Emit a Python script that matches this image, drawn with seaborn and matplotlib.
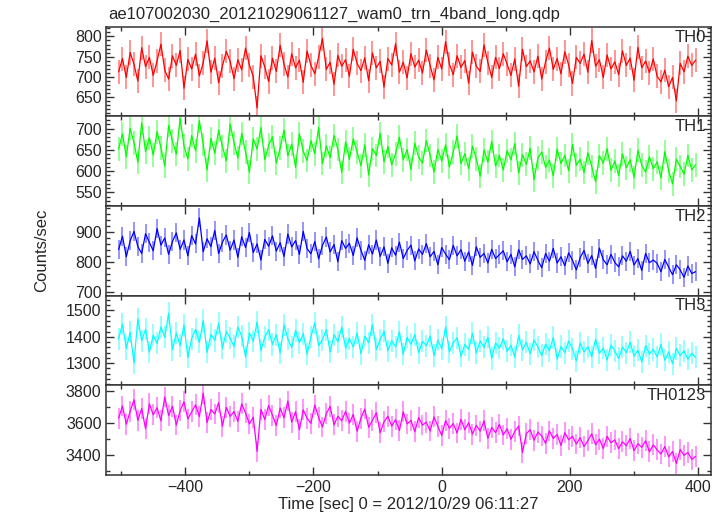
import numpy as np
import pandas as pd
import matplotlib.pyplot as plt
import seaborn as sns
from matplotlib.ticker import MultipleLocator

# time bins (sec), 6 s apart
time = np.arange(-504, 397, 6)

th0 = [712, 745, 698, 760, 731, 689, 772, 725, 748, 703,
       739, 781, 716, 694, 752, 728, 765, 671, 743, 719,
       756, 702, 734, 789, 711, 746, 685, 727, 763, 738,
       695, 742, 717, 771, 729, 700, 622, 752, 724, 688,
       746, 713, 778, 731, 699, 757, 722, 741, 686, 764,
       728, 707, 749, 795, 718, 736, 681, 753, 726, 742,
       701, 768, 733, 715, 747, 690, 759, 722, 738, 674,
       745, 729, 782, 711, 736, 697, 757, 724, 741, 709,
       766, 727, 692, 748, 719, 787, 731, 705, 752, 723,
       740, 684, 761, 726, 713, 779, 735, 698, 748, 720,
       757, 731, 703, 744, 676, 768, 725, 739, 712, 751,
       694, 737, 771, 718, 745, 707, 762, 729, 683, 748,
       733, 756, 711, 790, 726, 742, 698, 754, 719, 737,
       705, 764, 728, 746, 691, 773, 722, 739, 710, 744,
       701, 687, 716, 675, 698, 640, 733, 712, 751, 728,
       741]

th1 = [652, 688, 634, 701, 667, 621, 714, 646, 679, 638,
       693, 655, 612, 708, 671, 640, 725, 659, 629, 684,
       648, 719, 663, 603, 677, 642, 696, 658, 624, 711,
       667, 631, 689, 645, 598, 676, 652, 703, 627, 661,
       681, 619, 655, 697, 636, 664, 609, 688, 647, 625,
       672, 641, 703, 618, 659, 632, 684, 651, 597, 669,
       628, 676, 645, 613, 662, 591, 653, 637, 689, 622,
       658, 615, 641, 680, 627, 651, 604, 666, 633, 619,
       672, 637, 598, 651, 624, 662, 610, 645, 683, 618,
       641, 606, 659, 629, 588, 650, 621, 670, 612, 637,
       603, 648, 627, 665, 596, 639, 616, 654, 580, 631,
       645, 609, 626, 589, 652, 618, 637, 601, 663, 614,
       628, 597, 643, 611, 575, 636, 619, 653, 602, 624,
       590, 641, 608, 627, 585, 649, 614, 598, 634, 606,
       622, 584, 646, 601, 570, 628, 611, 593, 637, 603,
       615]

th2 = [842, 887, 818, 871, 903, 852, 829, 895, 866, 838,
       912, 857, 881, 826, 869, 898, 843, 874, 821, 889,
       861, 948, 835, 878, 852, 906, 829, 867, 891, 840,
       874, 816, 885, 849, 899, 832, 861, 807, 876, 853,
       888, 837, 865, 819, 894, 851, 872, 826, 903, 845,
       828, 869, 811, 856, 884, 834, 859, 801, 872, 846,
       863, 822, 881, 840, 806, 858, 827, 874, 819, 851,
       796, 848, 823, 867, 812, 839, 857, 804, 844, 826,
       862, 818, 836, 791, 849, 827, 808, 856, 821, 842,
       803, 834, 789, 851, 816, 829, 797, 843, 812, 825,
       838, 801, 826, 784, 842, 809, 821, 794, 835, 806,
       781, 829, 803, 846, 797, 818, 788, 831, 806, 774,
       815, 839, 796, 822, 779, 847, 808, 791, 826, 799,
       784, 821, 803, 836, 790, 812, 772, 829, 798, 807,
       796, 768, 809, 783, 758, 791, 774, 749, 787, 762,
       768]

th3 = [1392, 1448, 1356, 1417, 1301, 1468, 1385, 1428, 1342, 1406,
       1375, 1437, 1398, 1489, 1351, 1414, 1367, 1445, 1322, 1393,
       1428, 1379, 1462, 1341, 1409, 1386, 1451, 1357, 1420, 1395,
       1363, 1437, 1402, 1324, 1415, 1383, 1456, 1348, 1399, 1427,
       1371, 1408, 1339, 1445, 1392, 1360, 1424, 1378, 1412, 1335,
       1400, 1453, 1366, 1389, 1427, 1342, 1408, 1381, 1437, 1358,
       1393, 1361, 1415, 1336, 1402, 1378, 1446, 1352, 1389, 1421,
       1347, 1385, 1362, 1419, 1334, 1398, 1371, 1409, 1340, 1383,
       1366, 1402, 1329, 1387, 1355, 1438, 1343, 1378, 1396, 1326,
       1371, 1352, 1413, 1339, 1384, 1360, 1398, 1318, 1376, 1357,
       1392, 1345, 1368, 1323, 1405, 1351, 1379, 1336, 1388, 1362,
       1329, 1372, 1348, 1397, 1315, 1363, 1340, 1384, 1354, 1309,
       1376, 1343, 1362, 1325, 1391, 1338, 1357, 1312, 1369, 1346,
       1318, 1361, 1340, 1379, 1327, 1350, 1305, 1366, 1335, 1352,
       1324, 1371, 1311, 1343, 1298, 1356, 1329, 1347, 1315, 1338,
       1322]

th0123 = [3628, 3705, 3591, 3672, 3744, 3615, 3689, 3563, 3718, 3650,
          3694, 3612, 3761, 3645, 3703, 3586, 3676, 3731, 3624, 3668,
          3712, 3639, 3785, 3601, 3683, 3655, 3726, 3578, 3697, 3640,
          3670, 3609, 3718, 3661, 3593, 3635, 3422, 3684, 3620, 3708,
          3647, 3583, 3692, 3631, 3736, 3604, 3669, 3556, 3681, 3628,
          3596, 3711, 3633, 3574, 3658, 3702, 3587, 3641, 3613, 3671,
          3598, 3652, 3547, 3629, 3686, 3572, 3615, 3663, 3538, 3606,
          3641, 3579, 3620, 3552, 3668, 3593, 3615, 3544, 3632, 3586,
          3604, 3549, 3637, 3578, 3521, 3613, 3566, 3595, 3536, 3622,
          3557, 3601, 3529, 3584, 3548, 3612, 3503, 3571, 3539, 3590,
          3524, 3563, 3497, 3546, 3580, 3415, 3533, 3556, 3491, 3542,
          3518, 3472, 3549, 3503, 3527, 3459, 3538, 3494, 3516, 3468,
          3507, 3452, 3489, 3531, 3463, 3498, 3440, 3515, 3476, 3493,
          3438, 3481, 3457, 3502, 3426, 3469, 3447, 3488, 3419, 3462,
          3431, 3405, 3452, 3388, 3421, 3346, 3434, 3397, 3415, 3372,
          3390]

# 1-sigma errors (counts/sec)
err0, err1, err2, err3, err0123 = 30, 28, 32, 42, 65

bands = ["TH0", "TH1", "TH2", "TH3", "TH0123"]
series = [th0, th1, th2, th3, th0123]
errors = [err0, err1, err2, err3, err0123]
colors = ["#ff0000", "#00ff00", "#0000ff", "#00ffff", "#ff00ff"]
ylims = [(601, 824), (518, 729), (688, 988), (1217, 1556), (3276, 3835)]
major = [50, 50, 100, 100, 200]
minor = [10, 10, 20, 20, 100]

sns.set_style("ticks")
plt.rcParams['font.family'] = ['Liberation Sans', 'DejaVu Sans']

fig, axes = plt.subplots(5, 1, figsize=(7.24, 5.16), dpi=100, sharex=True)
fig.subplots_adjust(left=0.147, right=0.982, top=0.948, bottom=0.080, hspace=0)

for ax, name, vals, err, col, yl, mj, mn in zip(axes, bands, series, errors,
                                                colors, ylims, major, minor):
    df = pd.DataFrame({"time": time, "rate": vals})
    ax.errorbar(df["time"], df["rate"], yerr=err, fmt="none",
                ecolor=col, alpha=0.45, lw=1.3)
    sns.lineplot(data=df, x="time", y="rate", ax=ax, color=col,
                 lw=0.9, estimator=None, sort=False)
    ax.set_xlim(-523, 420)
    ax.set_ylim(*yl)
    ax.yaxis.set_major_locator(MultipleLocator(mj))
    ax.yaxis.set_minor_locator(MultipleLocator(mn))
    ax.xaxis.set_major_locator(MultipleLocator(200))
    ax.xaxis.set_minor_locator(MultipleLocator(100))
    ax.tick_params(which="both", direction="in", top=True, right=True,
                   labelsize=11.5, color="#333333", width=1)
    ax.tick_params(which="major", length=6)
    ax.tick_params(which="minor", length=3)
    for s in ax.spines.values():
        s.set_linewidth(1.1)
        s.set_color("#333333")
    ax.set_ylabel("")
    ax.set_xlabel("")
    ax.text(0.992, 0.97, name, transform=ax.transAxes, ha="right", va="top",
            fontsize=12)

axes[-1].set_xlabel("Time [sec] 0 = 2012/10/29 06:11:27", fontsize=12, labelpad=2)
fig.text(0.058, 0.515, "Counts/sec", rotation=90, ha="center", va="center",
         fontsize=12)
fig.text(0.149, 0.973, "ae107002030_20121029061127_wam0_trn_4band_long.qdp",
         ha="left", va="center", fontsize=12)

plt.savefig("out.png", dpi=100)
